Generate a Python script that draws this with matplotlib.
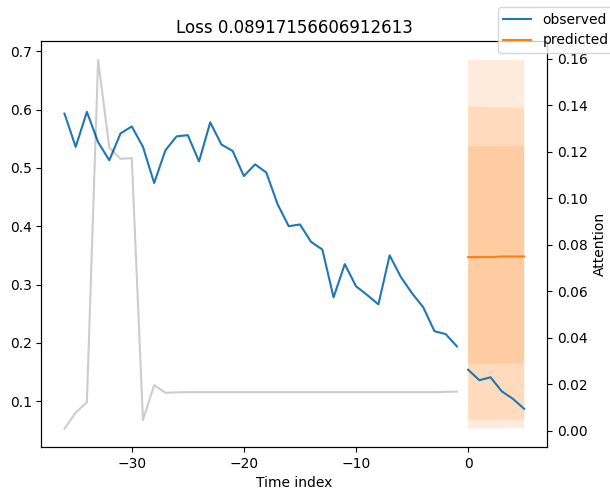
import matplotlib
matplotlib.use("Agg")
import matplotlib.pyplot as plt
import numpy as np

# encoder (history) time index and observed values
enc_time = list(range(-36, 0))
obs_enc = [0.593, 0.536, 0.596, 0.544, 0.513, 0.559, 0.571, 0.536, 0.474, 0.530,
           0.554, 0.556, 0.511, 0.578, 0.540, 0.529, 0.486, 0.506, 0.492, 0.438,
           0.400, 0.403, 0.373, 0.360, 0.278, 0.335, 0.297, 0.282, 0.266, 0.350,
           0.313, 0.285, 0.261, 0.220, 0.215, 0.194]

# decoder (future) time index, observed and predicted
dec_time = [0, 1, 2, 3, 4, 5]
obs_dec = [0.154, 0.136, 0.141, 0.117, 0.104, 0.087]
pred = [0.347, 0.347, 0.347, 0.348, 0.348, 0.348]

# quantiles 0.02, 0.1, 0.25, 0.5, 0.75, 0.9, 0.98
q02 = [0.053, 0.053, 0.053, 0.054, 0.054, 0.054]
q10 = [0.068, 0.068, 0.068, 0.068, 0.068, 0.068]
q25 = [0.164, 0.164, 0.164, 0.165, 0.165, 0.165]
q50 = [0.347, 0.347, 0.347, 0.348, 0.348, 0.348]
q75 = [0.537, 0.537, 0.537, 0.537, 0.537, 0.537]
q90 = [0.605, 0.605, 0.604, 0.604, 0.603, 0.603]
q98 = [0.685, 0.685, 0.685, 0.685, 0.685, 0.685]

# attention over encoder steps
attention = [0.001, 0.0079, 0.0123, 0.1595, 0.1217, 0.117, 0.1173, 0.0047, 0.0197, 0.0164,
             0.0166, 0.0167, 0.0167, 0.0167, 0.0167, 0.0167, 0.0167, 0.0167, 0.0167, 0.0167,
             0.0167, 0.0167, 0.0167, 0.0167, 0.0167, 0.0167, 0.0167, 0.0167, 0.0167, 0.0167,
             0.0167, 0.0167, 0.0167, 0.0167, 0.0168, 0.0169]

loss_title = "Loss 0.08917156606912613"

fig = plt.figure(figsize=(6.1, 4.94), dpi=100)
ax = fig.add_axes([0.068, 0.095, 0.829, 0.821])

obs_color = "#1f77b4"
pred_color = "#ff7f0e"

ax.plot(enc_time, obs_enc, label="observed", c=obs_color)
ax.plot(dec_time, obs_dec, c=obs_color)
ax.plot(dec_time, pred, label="predicted", c=pred_color)
ax.plot(dec_time, q50, c=pred_color, alpha=0.15)
quant = [q02, q10, q25, q50, q75, q90, q98]
for i in range(3):
    ax.fill_between(dec_time, quant[i], quant[-i - 1], alpha=0.15, fc=pred_color)

ax.set_title(loss_title)
ax.set_xlabel("Time index")

ax2 = ax.twinx()
ax2.set_ylabel("Attention")
ax2.plot(enc_time, attention, alpha=0.2, color="k")

fig.legend(loc="upper right", bbox_to_anchor=(1.018, 1.0))
fig.savefig("out.png", dpi=100)
